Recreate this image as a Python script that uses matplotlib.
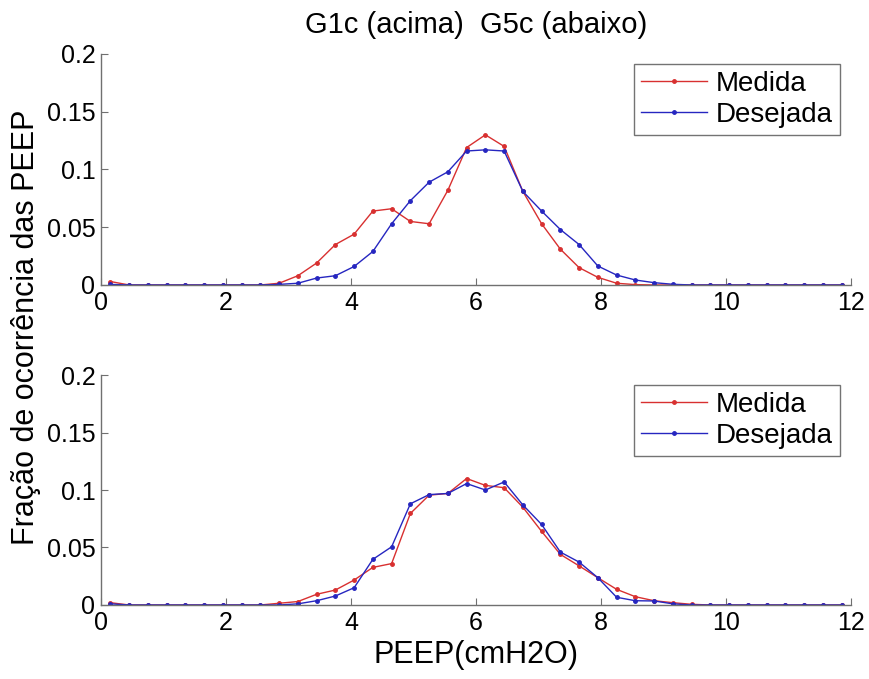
import numpy as np
import matplotlib
matplotlib.use('Agg')
import matplotlib.pyplot as plt

plt.rcParams['font.family'] = ['Liberation Sans', 'DejaVu Sans']

# PEEP bins (cmH2O)
peep = [0.15 + 0.3 * k for k in range(40)]

# G1c (top)
g1_medida = [0.003, 0, 0, 0, 0, 0, 0, 0, 0, 0.0015,
             0.008, 0.019, 0.035, 0.044, 0.064, 0.066, 0.055, 0.053, 0.082, 0.119,
             0.130, 0.120, 0.081, 0.053, 0.031, 0.015, 0.0066, 0.0015, 0.0003, 0,
             0, 0, 0, 0, 0, 0, 0, 0, 0, 0]
g1_desejada = [0.0005, 0, 0, 0, 0, 0, 0, 0, 0, 0.0005,
               0.0015, 0.006, 0.008, 0.016, 0.029, 0.053, 0.073, 0.089, 0.098, 0.116,
               0.117, 0.116, 0.081, 0.064, 0.048, 0.035, 0.0164, 0.0086, 0.0043, 0.002,
               0.0006, 0, 0, 0, 0, 0, 0, 0, 0, 0]

# G5c (bottom)
g5_medida = [0.002, 0, 0, 0, 0, 0, 0, 0, 0, 0.0015,
             0.003, 0.0093, 0.013, 0.0217, 0.0327, 0.036, 0.0796, 0.0955, 0.097, 0.110,
             0.104, 0.102, 0.085, 0.064, 0.044, 0.034, 0.0237, 0.0136, 0.0072, 0.0037,
             0.002, 0.0006, 0, 0, 0, 0, 0, 0, 0, 0]
g5_desejada = [0.001, 0, 0, 0, 0, 0, 0, 0, 0, 0,
               0.001, 0.0037, 0.0078, 0.015, 0.0397, 0.0506, 0.088, 0.096, 0.097, 0.1056,
               0.100, 0.107, 0.087, 0.070, 0.046, 0.0373, 0.0237, 0.0067, 0.0037, 0.0035,
               0.001, 0, 0, 0, 0, 0, 0, 0, 0, 0]

red = '#d83030'
blue = '#2626c0'

fig = plt.figure(figsize=(8.69, 6.79), dpi=100)
ax1 = fig.add_axes([0.1162, 0.5803, 0.8631, 0.3402])
ax2 = fig.add_axes([0.1162, 0.1090, 0.8631, 0.3387])

for ax, med, des in [(ax1, g1_medida, g1_desejada), (ax2, g5_medida, g5_desejada)]:
    ax.plot(peep, med, color=red, marker='.', markersize=5, linewidth=1, label='Medida')
    ax.plot(peep, des, color=blue, marker='.', markersize=5, linewidth=1, label='Desejada')
    ax.set_xlim(0, 12)
    ax.set_ylim(0, 0.2)
    ax.set_xticks([0, 2, 4, 6, 8, 10, 12])
    ax.set_yticks([0, 0.05, 0.1, 0.15, 0.2])
    ax.set_yticklabels(['0', '0.05', '0.1', '0.15', '0.2'])
    ax.spines['top'].set_visible(False)
    ax.spines['right'].set_visible(False)
    for s in ['left', 'bottom']:
        ax.spines[s].set_color('#707070')
        ax.spines[s].set_linewidth(1)
    ax.tick_params(direction='in', length=5, labelsize=18, color='#707070', pad=4)
    leg = ax.legend(loc='upper right', bbox_to_anchor=(0.985, 0.957), borderaxespad=0,
                    fontsize=20, frameon=True, fancybox=False, edgecolor='#505050',
                    handlelength=2.4, borderpad=0.25, labelspacing=0.19, handletextpad=0.3)
    leg.get_frame().set_linewidth(1)

ax1.set_title('G1c (acima)  G5c (abaixo)', fontsize=21, pad=15)
ax2.set_xlabel('PEEP(cmH2O)', fontsize=22, labelpad=4)
fig.text(0.030, 0.518, 'Fração de ocorrência das PEEP', rotation=90, fontsize=22,
         ha='center', va='center')

fig.savefig('out.png', dpi=100)
